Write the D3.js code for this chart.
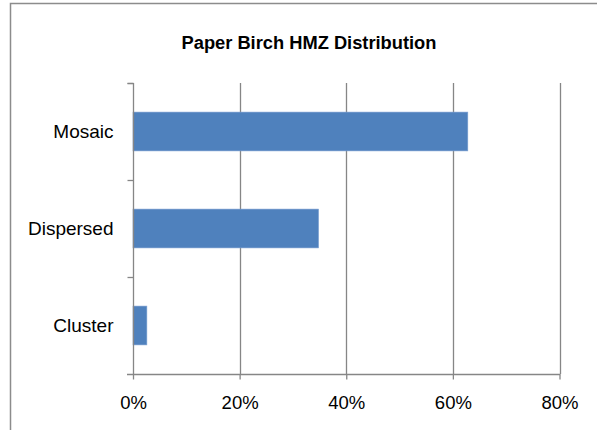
<!DOCTYPE html>
<html>
<head>
<meta charset="utf-8">
<script src="https://cdn.jsdelivr.net/npm/d3@7"></script>
<style>
  body { margin: 0; background: #fff; }
  text { font-family: "Liberation Sans", Arial, sans-serif; fill: #000; }
</style>
</head>
<body>
<svg id="chart"></svg>
<script>
// values
const categories = ['Mosaic', 'Dispersed', 'Cluster'];
const shares = [0.628, 0.348, 0.026];
const tickValues = [0, 0.2, 0.4, 0.6, 0.8];

const W = 597, H = 430;
const plot = {left: 133, right: 559.5, top: 83, bottom: 374};

const svg = d3.select('#chart')
  .attr('width', W)
  .attr('height', H);

// chart frame (right/bottom edges fall outside the picture)
svg.append('rect')
  .attr('x', 10.5).attr('y', 3.5)
  .attr('width', 640).attr('height', 480)
  .attr('fill', 'none')
  .attr('stroke', '#8c8c8c')
  .attr('stroke-width', 1.5);

svg.append('text')
  .attr('x', 309).attr('y', 49)
  .attr('text-anchor', 'middle')
  .style('font-size', '18.3px')
  .style('font-weight', 'bold')
  .text('Paper Birch HMZ Distribution');

const x = d3.scaleLinear()
  .domain([0, 0.8])
  .range([plot.left, plot.right]);

const y = d3.scaleBand()
  .domain(categories)
  .range([plot.top, plot.bottom])
  .paddingInner(0.6)
  .paddingOuter(0.3);

// vertical gridlines
svg.append('g')
  .selectAll('line')
  .data(tickValues.slice(1))
  .join('line')
  .attr('x1', d => Math.round(x(d)) + 0.5)
  .attr('x2', d => Math.round(x(d)) + 0.5)
  .attr('y1', plot.top)
  .attr('y2', plot.bottom)
  .attr('stroke', '#868686')
  .attr('stroke-width', 1.3);

// bars
svg.append('g')
  .selectAll('rect')
  .data(categories.map((c, i) => ({cat: c, v: shares[i]})))
  .join('rect')
  .attr('x', x(0))
  .attr('y', d => y(d.cat))
  .attr('width', d => x(d.v) - x(0))
  .attr('height', y.bandwidth())
  .attr('fill', '#4f81bd')
  .attr('stroke', '#7a9fd0')
  .attr('stroke-width', 0.6);

// bottom axis
const xAxis = svg.append('g')
  .attr('transform', `translate(0,${plot.bottom + 0.5})`)
  .call(d3.axisBottom(x)
    .tickValues(tickValues)
    .tickFormat(d3.format('.0%'))
    .tickSize(5)
    .tickSizeOuter(0)
    .tickPadding(16));
xAxis.select('.domain').remove();
xAxis.append('line')
  .attr('x1', plot.left - 6).attr('x2', plot.right + 1)
  .attr('stroke', '#868686').attr('stroke-width', 1.3);
xAxis.selectAll('.tick line').attr('stroke', '#868686').attr('stroke-width', 1.3);
xAxis.selectAll('.tick text')
  .style('font-family', '"Liberation Sans", Arial, sans-serif')
  .style('font-size', '18.5px')
  .attr('fill', '#000');

// left axis: ticks sit between categories
const yAxis = svg.append('g')
  .attr('transform', `translate(${plot.left + 0.5},0)`)
  .call(d3.axisLeft(y).tickSize(0).tickPadding(20));
yAxis.select('.domain')
  .attr('d', `M0,${plot.top}V${plot.bottom}`)
  .attr('stroke', '#868686').attr('stroke-width', 1.3);
yAxis.selectAll('.tick text')
  .style('font-family', '"Liberation Sans", Arial, sans-serif')
  .style('font-size', '19px')
  .attr('fill', '#000');

const edges = categories.map(c => y(c) - y.step() * y.paddingOuter()).concat([plot.top]);
yAxis.append('g')
  .selectAll('line')
  .data(edges)
  .join('line')
  .attr('x1', -6).attr('x2', 0)
  .attr('y1', d => Math.round(d) + 0.5)
  .attr('y2', d => Math.round(d) + 0.5)
  .attr('stroke', '#868686').attr('stroke-width', 1.3);
</script>
</body>
</html>
